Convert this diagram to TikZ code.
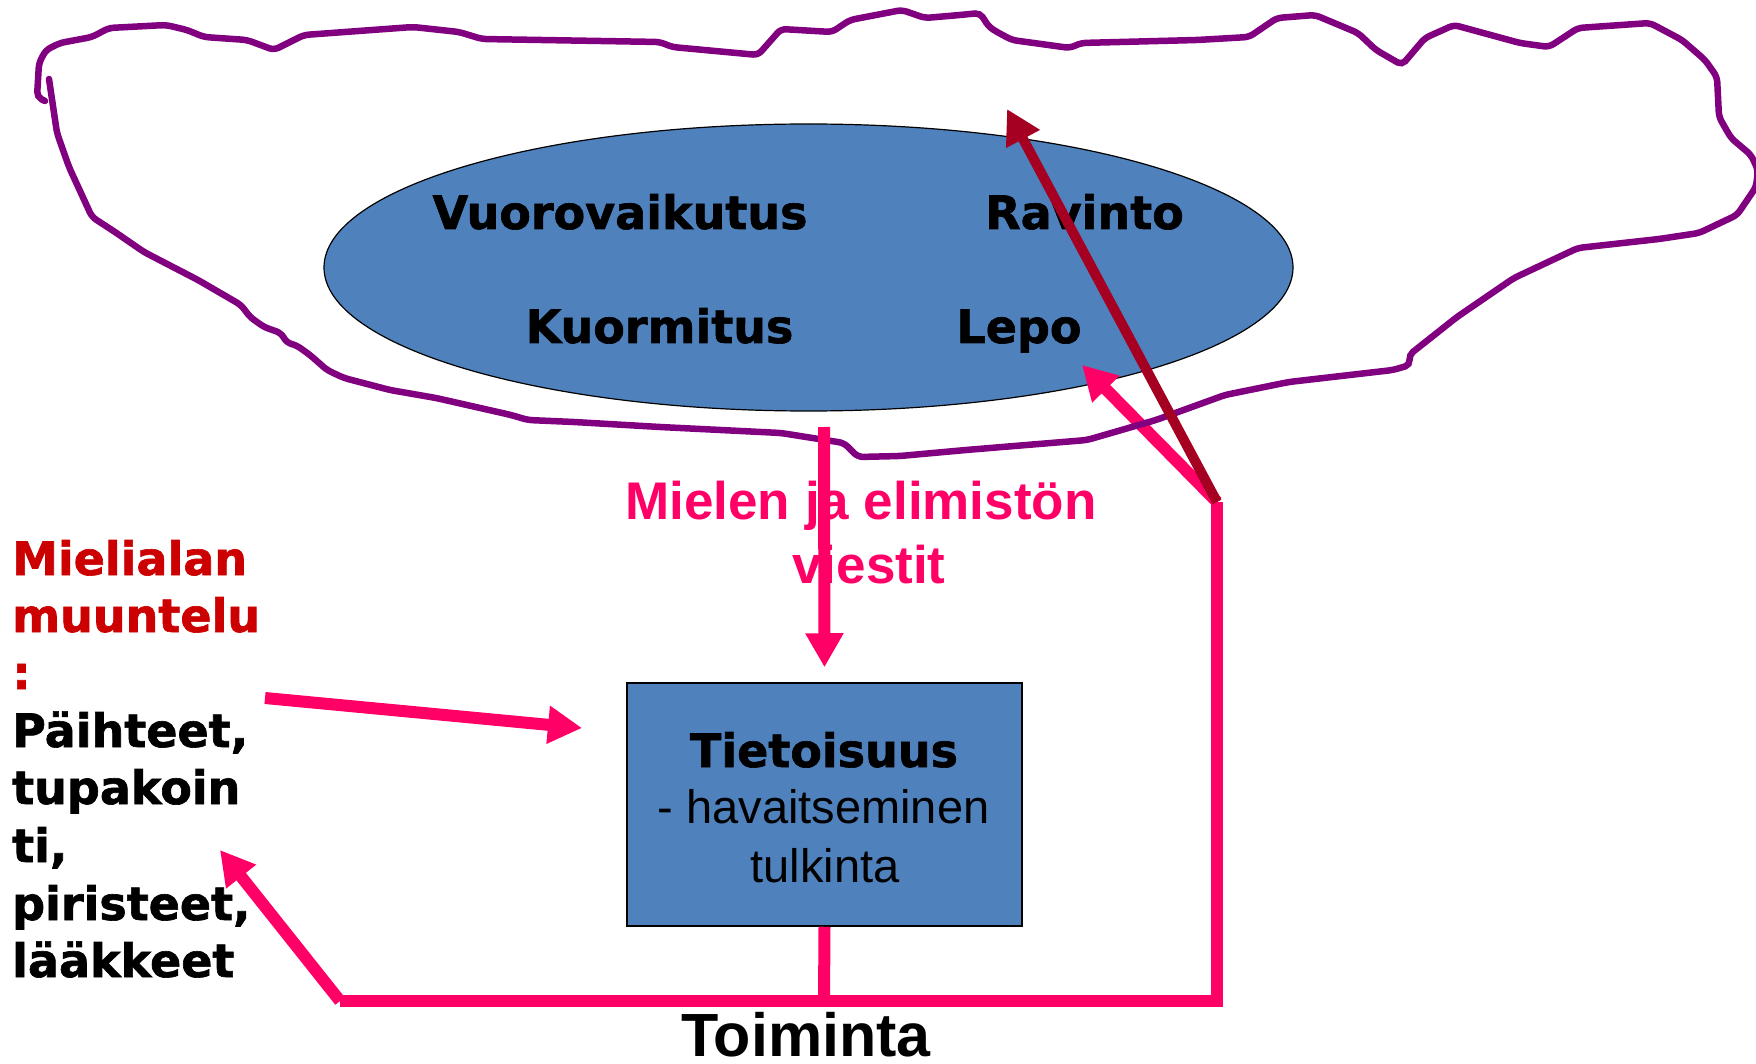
\documentclass[tikz,border=0pt]{standalone}
\usepackage{fontspec}
\setmainfont{Liberation Sans}
\newfontfamily\heavyfont{DejaVu Sans}[BoldFeatures={FakeBold=1.4}]
\usetikzlibrary{shapes.geometric,arrows.meta}
\definecolor{mpink}{HTML}{FF0066}
\definecolor{mred}{HTML}{CC0000}
\definecolor{mdark}{HTML}{A50021}
\definecolor{mpurple}{HTML}{800080}
\definecolor{mblue}{HTML}{4F81BD}
\begin{document}
\begin{tikzpicture}[x=1pt,y=-1pt,
  heavy/.style={font=\fontsize{46}{55}\heavyfont\bfseries, inner sep=0pt, anchor=base},
  heavyleft/.style={heavy, anchor=base west},
  plaintext/.style={font=\fontsize{47}{56}\selectfont, inner sep=0pt, anchor=base},
  pinkbold/.style={font=\fontsize{53}{64}\selectfont\bfseries, text=mpink, inner sep=0pt, anchor=base},
  actbold/.style={font=\fontsize{61}{70}\selectfont\bfseries, inner sep=0pt, anchor=base},
  pinkline/.style={draw=mpink, line width=12pt, line join=miter},
  pinkarrow/.style={pinkline, -{Triangle[length=34pt,width=36pt]}},
  darkarrow/.style={draw=mdark, line width=10pt, -{Triangle[length=34pt,width=36pt]}},
  blob/.style={draw=mpurple, line width=6.5pt, rounded corners=5pt, line cap=round},
  bluefill/.style={fill=mblue, draw=black}
]
\useasboundingbox (0,0) rectangle (1756,1064);

% ellipse with the four factors
\node[ellipse, bluefill, line width=1.2pt, minimum width=969pt, minimum height=287pt, inner sep=0pt] (ell) at (808.5,267.5) {};
\node[heavy] (vuo) at (620,229) {Vuorovaikutus};
\node[heavy] (rav) at (1084.5,229) {Ravinto};
\node[heavy] (kuo) at (659.5,343) {Kuormitus};
\node[heavy] (lep) at (1019,343) {Lepo};

% awareness box
\node[rectangle, bluefill, line width=1.5pt, minimum width=395pt, minimum height=243pt, inner sep=0pt] (box) at (824.5,804.5) {};
\node[heavy] (tit) at (824,767) {Tietoisuus};
\node[plaintext] (hav) at (823.5,823) {- havaitseminen};
\node[plaintext] (tul) at (825,882) {tulkinta};

% messages label
\node[pinkbold] (mie1) at (861,519) {Mielen ja elimistön};
\node[pinkbold] (mie2) at (869,583) {viestit};

% action label
\node[actbold] (toi) at (806,1056) {Toiminta};

% left text block
\node[heavyleft, text=mred] (l1) at (12,575) {Mielialan};
\node[heavyleft, text=mred] (l2) at (12,632) {muuntelu};
\node[heavyleft, text=mred] (l3) at (12,689) {:};
\node[heavyleft] (l4) at (12,747) {Päihteet,};
\node[heavyleft] (l5) at (12,804) {tupakoin};
\node[heavyleft] (l6) at (12,862) {ti,};
\node[heavyleft] (l7) at (12,920) {piristeet,};
\node[heavyleft] (l8) at (12,977) {lääkkeet};

% connector coordinates
\coordinate (vtop) at (824,427);
\coordinate (jr) at (1217,502);
\coordinate (bl) at (340,1001);
\coordinate (bm) at (824,1001);
\coordinate (br) at (1217,1001);
\coordinate (ltail) at (265,698);
\coordinate (ltip) at (582,728);
\coordinate (lptip) at (220,850);
\coordinate (lepotip) at (1082,365);
\coordinate (ravtip) at (1007,109);

% pink connectors
\draw[pinkline] (bl) -- (br) -- (jr);
\draw[pinkline] (box.south) -- (bm);
\draw[pinkarrow] (bl) -- (lptip);
\draw[pinkarrow] (ltail) -- (ltip);
\draw[pinkarrow] (jr) -- (lepotip);

% purple outline
\draw[blob] (49,79) -- (57,133) -- (69,167) -- (92,217) -- (115,232) -- (144,252) -- (198,280) -- (241,305) -- (250,317) -- (264,327) -- (281,333) -- (287,343) -- (296,345) -- (310,355) -- (327,370) -- (344,378) -- (390,390) -- (436,398) -- (511,415) -- (528,420) -- (574,422) -- (660,427) -- (781,433) -- (844,443) -- (858,457) -- (900,456) -- (966,450) -- (1087,440) -- (1156,420) -- (1225,395) -- (1289,382) -- (1393,370) -- (1410,365) -- (1409,355) -- (1457,317) -- (1514,278) -- (1578,248) -- (1659,239) -- (1699,233) -- (1737,215) -- (1756,187) -- (1758,170) -- (1751,155) -- (1731,138) -- (1719,117) -- (1717,77) -- (1705,60) -- (1682,40) -- (1650,23) -- (1578,28) -- (1549,47) -- (1520,43) -- (1454,25) -- (1425,38) -- (1402,65) -- (1376,50) -- (1358,33) -- (1315,15) -- (1277,18) -- (1249,37) -- (1197,40) -- (1081,43) -- (1070,48) -- (1012,40) -- (997,32) -- (989,27) -- (980,13) -- (960,15) -- (925,18) -- (902,10) -- (850,20) -- (832,32) -- (781,29) -- (758,55) -- (672,47) -- (660,42) -- (482,39) -- (459,32) -- (413,27) -- (304,35) -- (274,50) -- (247,40) -- (204,37) -- (187,30) -- (166,25) -- (109,28) -- (92,37) -- (60,43) -- (46,50) -- (39,63) -- (37,97) -- (45,101);

% dark red arrow and the messages arrow
\draw[darkarrow] (jr) -- (ravtip);
\draw[pinkarrow, shorten >=15pt] (vtop) -- (box.north);
\end{tikzpicture}
\end{document}
